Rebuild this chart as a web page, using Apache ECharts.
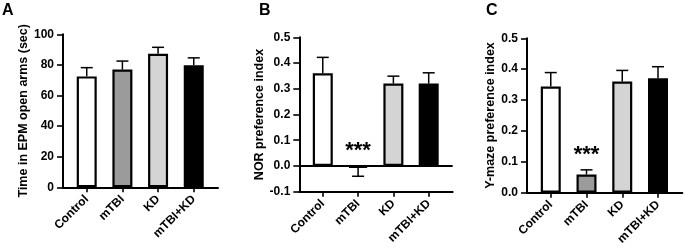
<!DOCTYPE html>
<html>
<head>
<meta charset="utf-8">
<script src="https://cdn.jsdelivr.net/npm/echarts@6/dist/echarts.min.js"></script>
<style>html,body{margin:0;padding:0;background:#fff}#c{width:685px;height:250px}</style>
</head>
<body>
<div id="c"></div>
<script>
// ---- data ----
var categories = ['Control', 'mTBI', 'KD', 'mTBI+KD'];
var barColors = ['#ffffff', '#9b9b9b', '#d4d4d4', '#000000'];

var epmMean = [72.5, 77.0, 87.3, 79.8];
var epmErr  = [78.2, 82.5, 91.5, 84.6];
var epmStars = ['', '', '', ''];
var epmTicks = [0, 20, 40, 60, 80, 100];

var norMean = [0.360, -0.007, 0.320, 0.320];
var norErr  = [0.422, -0.040, 0.349, 0.362];
var norStars = ['', '***', '', ''];
var norTicks = [-0.1, 0.0, 0.1, 0.2, 0.3, 0.4, 0.5];

var ymzMean = [0.344, 0.059, 0.360, 0.371];
var ymzErr  = [0.389, 0.074, 0.396, 0.408];
var ymzStars = ['', '***', '', ''];
var ymzTicks = [0.0, 0.1, 0.2, 0.3, 0.4, 0.5];

var panelLetters = ['A', 'B', 'C'];
var yNames = ['Time in EPM open arms (sec)', 'NOR preference index', 'Y-maze preference index'];

// ---- chart ----
var FONT = '"Liberation Sans", Arial, sans-serif';
var chart = echarts.init(document.getElementById('c'), null, {renderer: 'canvas'});

var grids = [
  {left: 63, top: 34.3, width: 155, height: 153},
  {left: 299.3, top: 37.3, width: 153.4, height: 154.4},
  {left: 527, top: 38.3, width: 155.3, height: 154.4}
];
var panels = [
  {mean: epmMean, err: epmErr, stars: epmStars, ticks: epmTicks, dec: 0},
  {mean: norMean, err: norErr, stars: norStars, ticks: norTicks, dec: 1},
  {mean: ymzMean, err: ymzErr, stars: ymzStars, ticks: ymzTicks, dec: 1}
];
var catIdx = categories.map(function (c, i) { return i; });

var xAxes = [], yAxes = [], series = [], titles = [];
panels.forEach(function (p, k) {
  xAxes.push({
    type: 'value', gridIndex: k, min: -0.665, max: 3.68,
    axisLine: {show: true, onZero: false, lineStyle: {color: '#000', width: 2}},
    axisTick: {show: true, customValues: catIdx, length: 5, lineStyle: {color: '#000', width: 1.6}},
    axisLabel: {
      customValues: catIdx, rotate: 45, margin: 10, color: '#000',
      fontFamily: FONT, fontWeight: 'bold', fontSize: 12,
      formatter: function (v) { return categories[Math.round(v)]; }
    },
    splitLine: {show: false}
  });
  var tmin = p.ticks[0], tmax = p.ticks[p.ticks.length - 1];
  yAxes.push({
    type: 'value', gridIndex: k, min: tmin, max: tmax, interval: p.ticks[1] - p.ticks[0],
    name: yNames[k], nameLocation: 'middle', nameGap: 28, nameRotate: 90,
    nameTextStyle: {color: '#000', fontFamily: FONT, fontWeight: 'bold', fontSize: 12.5},
    axisLine: {show: true, onZero: false, lineStyle: {color: '#000', width: 2}},
    axisTick: {show: true, length: 6, lineStyle: {color: '#000', width: 1.6}},
    axisLabel: {
      color: '#000', fontFamily: FONT, fontWeight: 'bold', fontSize: 12, margin: 9,
      formatter: function (v) { if (Math.abs(v) < 1e-9) v = 0; return v.toFixed(p.dec); }
    },
    splitLine: {show: false}
  });
  var barData = p.mean.map(function (v, i) {
    return {value: [i, v], itemStyle: {color: barColors[i]}};
  });
  var bar = {
    type: 'bar', xAxisIndex: k, yAxisIndex: k, barWidth: 20, data: barData,
    itemStyle: {borderColor: '#000', borderWidth: 2.2},
    silent: true, animation: false, z: 3
  };
  if (tmin < 0) {
    bar.markLine = {
      silent: true, symbol: 'none', label: {show: false},
      lineStyle: {color: '#000', width: 2, type: 'solid'},
      data: [{yAxis: 0}]
    };
  }
  series.push(bar);
  series.push({
    type: 'custom', xAxisIndex: k, yAxisIndex: k, animation: false, silent: true, z: 2,
    data: p.mean.map(function (v, i) { return [i, v, p.err[i]]; }),
    renderItem: function (params, api) {
      var i = api.value(0), v = api.value(1), e = api.value(2);
      var a = api.coord([i, v]), b = api.coord([i, e]);
      var capHalf = 6;
      var children = [
        {type: 'line', shape: {x1: a[0], y1: a[1], x2: b[0], y2: b[1]}, style: {stroke: '#000', lineWidth: 1.5}},
        {type: 'line', shape: {x1: b[0] - capHalf, y1: b[1], x2: b[0] + capHalf, y2: b[1]}, style: {stroke: '#000', lineWidth: 1.5}}
      ];
      var s = p.stars[i];
      if (s) {
        var up = api.coord([i, Math.max(0, v, e)]);
        children.push({
          type: 'text', x: up[0], y: up[1] - 15,
          style: {text: s, fill: '#000', font: 'bold 22px ' + FONT, textAlign: 'center', textVerticalAlign: 'middle'}
        });
      }
      return {type: 'group', children: children};
    }
  });
});

var letterPos = [{left: 2, top: 3}, {left: 259, top: 3}, {left: 486, top: 3}];
panelLetters.forEach(function (L, k) {
  titles.push({
    text: L, left: letterPos[k].left, top: letterPos[k].top, padding: 0,
    textStyle: {color: '#000', fontFamily: FONT, fontWeight: 'bold', fontSize: 16}
  });
});

chart.setOption({
  animation: false,
  backgroundColor: '#fff',
  title: titles,
  grid: grids,
  xAxis: xAxes,
  yAxis: yAxes,
  series: series
});
</script>
</body>
</html>
